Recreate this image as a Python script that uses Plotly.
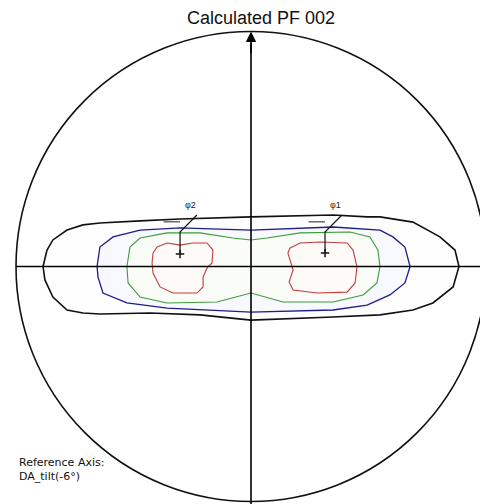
import plotly.graph_objects as go

# ---- data: contour outlines in normalized pole-figure coordinates (radius = 1) ----
black_x = [-0.885, -0.868, -0.843, -0.783, -0.715, -0.643, -0.472, -0.302, 0.000, 0.349, 0.494, 0.549,
           0.689, 0.804, 0.868, 0.885, 0.860, 0.774, 0.689, 0.549, 0.349, 0.000, -0.217, -0.430,
           -0.643, -0.715, -0.783, -0.843, -0.877]
black_y = [0.000, 0.070, 0.113, 0.155, 0.177, 0.185, 0.194, 0.202, 0.211, 0.219, 0.211, 0.211,
           0.189, 0.126, 0.070, 0.000, -0.087, -0.155, -0.185, -0.206, -0.215, -0.228, -0.206, -0.198,
           -0.202, -0.198, -0.185, -0.130, -0.057]

blue_x = [-0.655, -0.643, -0.587, -0.472, -0.302, 0.000, 0.349, 0.549, 0.604, 0.655, 0.677, 0.655,
          0.591, 0.494, 0.349, 0.000, -0.357, -0.528, -0.630, -0.651]
blue_y = [0.000, 0.083, 0.126, 0.155, 0.164, 0.155, 0.168, 0.155, 0.126, 0.083, 0.000, -0.070,
          -0.121, -0.164, -0.185, -0.194, -0.177, -0.155, -0.113, -0.045]

green_x = [-0.528, -0.515, -0.472, -0.357, -0.217, -0.077, 0.000, 0.068, 0.209, 0.421, 0.506, 0.540,
           0.549, 0.536, 0.477, 0.349, 0.136, 0.000, -0.145, -0.357, -0.472, -0.523]
green_y = [0.000, 0.083, 0.121, 0.143, 0.143, 0.121, 0.113, 0.121, 0.143, 0.147, 0.126, 0.070,
           0.000, -0.070, -0.121, -0.151, -0.151, -0.113, -0.151, -0.155, -0.130, -0.070]

red_left_x = [-0.400, -0.357, -0.302, -0.247, -0.187, -0.162, -0.166, -0.187, -0.204, -0.204, -0.230,
              -0.332, -0.387, -0.417, -0.421, -0.417]
red_left_y = [0.083, 0.100, 0.091, 0.100, 0.100, 0.070, 0.015, -0.006, -0.045, -0.087, -0.113,
              -0.113, -0.087, -0.028, 0.015, 0.057]

red_right_x = [0.166, 0.209, 0.294, 0.409, 0.434, 0.451, 0.443, 0.409, 0.281, 0.179, 0.162, 0.179,
               0.166, 0.157]
red_right_y = [0.079, 0.100, 0.104, 0.100, 0.070, 0.000, -0.070, -0.109, -0.113, -0.100, -0.066, -0.015,
               0.028, 0.057]

pole_x = [-0.302, 0.315]
pole_y = [0.053, 0.057]
pole_labels = ["φ2", "φ1"]

title_text = "Calculated PF 002"
ref_lines = ["Reference Axis:", "DA_tilt(-6°)"]

# ---- figure ----
W, H = 480, 504
CX, CY, R = 251.0, 266.5, 235.0  # pixel placement of the pole figure circle
x_range = [(0 - CX) / R, (W - CX) / R]
y_range = [(CY - H) / R, CY / R]

fig = go.Figure()

contours = [
    (black_x, black_y, "#111111", 1.6, "rgba(253,253,255,0.5)"),
    (blue_x, blue_y, "#1c1c8a", 1.3, "rgba(242,244,255,0.5)"),
    (green_x, green_y, "#3c9c3c", 1.1, "rgba(251,253,242,0.6)"),
    (red_left_x, red_left_y, "#c43c3c", 1.1, "rgba(255,248,248,0.6)"),
    (red_right_x, red_right_y, "#c43c3c", 1.1, "rgba(255,248,248,0.6)"),
]
for xs, ys, col, w, fc in contours:
    fig.add_trace(go.Scatter(
        x=list(xs) + [xs[0]], y=list(ys) + [ys[0]], mode="lines",
        line=dict(color=col, width=w), fill="toself", fillcolor=fc,
        hoverinfo="skip", showlegend=False))

# pole markers with leader lines
for px, py, lab in zip(pole_x, pole_y, pole_labels):
    fig.add_trace(go.Scatter(
        x=[px, px, px + 0.072], y=[py, 0.147, 0.219], mode="lines",
        line=dict(color="#111111", width=1.2), hoverinfo="skip", showlegend=False))
    fig.add_trace(go.Scatter(
        x=[px], y=[py], mode="markers",
        marker=dict(symbol="cross-thin", size=6, line=dict(color="#111111", width=1.5)),
        hoverinfo="skip", showlegend=False))
    fig.add_annotation(x=px + 0.045, y=0.262, text=lab, showarrow=False,
                       font=dict(family="Liberation Sans, Arial", size=9, color="#222222"))
    fig.add_trace(go.Scatter(
        x=[px - 0.07, px + 0.0], y=[0.19, 0.19], mode="lines",
        line=dict(color="#222222", width=1), hoverinfo="skip", showlegend=False))

# outer circle
fig.add_shape(type="circle", xref="x", yref="y", x0=-1, y0=-1, x1=1, y1=1,
              line=dict(color="#111111", width=1.6), layer="above")
# axes
fig.add_shape(type="line", xref="x", yref="y", x0=-1.0, y0=0, x1=1.05, y1=0,
              line=dict(color="#000000", width=1.6), layer="above")
fig.add_shape(type="line", xref="x", yref="y", x0=0, y0=-1.05, x1=0, y1=0.95,
              line=dict(color="#000000", width=1.6), layer="above")
fig.add_annotation(x=0, y=1.0, ax=0, ay=0.9, xref="x", yref="y", axref="x", ayref="y",
                   text="", showarrow=True, arrowhead=2, arrowsize=1.3, arrowwidth=1.6,
                   arrowcolor="#000000")

fig.add_annotation(x=261 / W, y=1 - 18 / H, xref="paper", yref="paper", text=title_text,
                   showarrow=False, yanchor="middle",
                   font=dict(family="Liberation Sans, Arial", size=18, color="#111111"))
for i, t in enumerate(ref_lines):
    fig.add_annotation(x=17 / W, y=1 - (462 + 14 * i) / H, xref="paper", yref="paper", text=t,
                       showarrow=False, xanchor="left", yanchor="middle",
                       font=dict(family="DejaVu Sans", size=11, color="#111111"))

fig.update_layout(
    width=W, height=H, margin=dict(l=0, r=0, t=0, b=0),
    paper_bgcolor="white", plot_bgcolor="white",
    xaxis=dict(range=x_range, visible=False, fixedrange=True),
    yaxis=dict(range=y_range, visible=False, fixedrange=True),
)

fig.write_html("out.html", config={"displayModeBar": False},
               post_script="document.body.style.margin='0';document.body.style.overflow='hidden';")
